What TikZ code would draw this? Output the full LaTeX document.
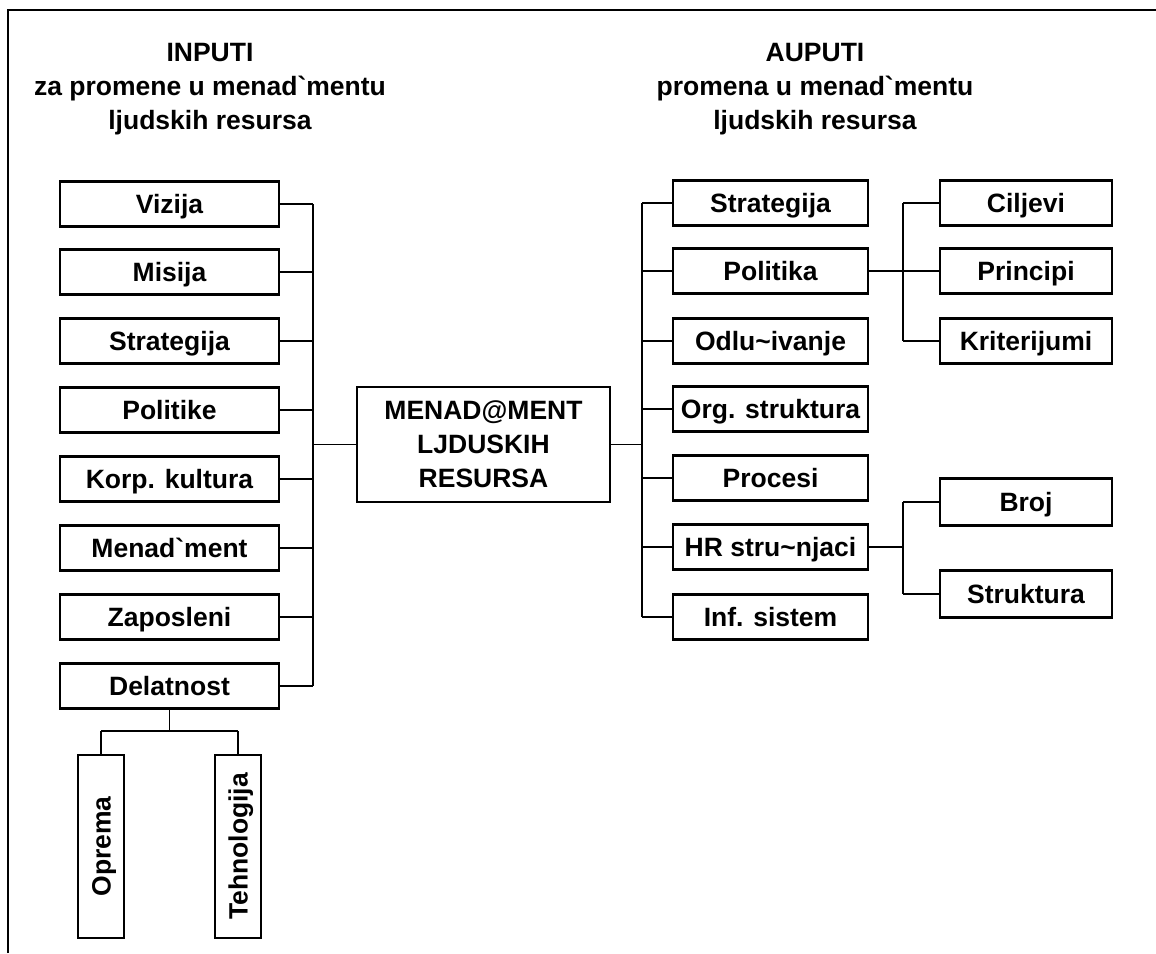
\documentclass[tikz,border=0pt]{standalone}
\usepackage{fontspec}
\setmainfont{Liberation Sans}
\begin{document}
\begin{tikzpicture}[x=1pt,y=-1pt,
  every node/.style={font=\fontsize{26.5}{34}\selectfont\bfseries},
  box/.style={draw,line width=2.8pt,minimum height=45pt,inner sep=0pt,anchor=center},
  one/.style={box,text height=19pt,text depth=0pt},
  lbox/.style={one,minimum width=219pt},
  rbox/.style={one,minimum width=195pt},
  sbox/.style={one,minimum width=172pt},
  vbox/.style={one,rotate=90,minimum width=183pt,minimum height=46pt},
  conn/.style={line width=1.4pt},
  frame/.style={line width=2.8pt}]
\useasboundingbox (0,0) rectangle (1156,953);
\draw[frame] (8,953) -- (8,10) -- (1156,10);

% headers
\node[align=center] (hl) at (210,89) {INPUTI\\za promene u menad\textasciigrave mentu\\ljudskih resursa};
\node[align=center] (hr) at (815,89) {AUPUTI\\promena u menad\textasciigrave mentu\\ljudskih resursa};

% left column
\node[lbox] (l1) at (169.5,204) {Vizija};
\node[lbox] (l2) at (169.5,272) {Misija};
\node[lbox] (l3) at (169.5,341) {Strategija};
\node[lbox] (l4) at (169.5,410) {Politike};
\node[lbox] (l5) at (169.5,479) {Korp. kultura};
\node[lbox] (l6) at (169.5,548) {Menad\textasciigrave ment};
\node[lbox] (l7) at (169.5,617) {Zaposleni};
\node[lbox] (l8) at (169.5,686) {Delatnost};

\node[vbox] (op) at (101,846.5) {Oprema};
\node[vbox] (te) at (238,846.5) {Tehnologija};

% center
\node[box,minimum width=253pt,minimum height=115pt,align=center] (m) at (483.5,444.5) {MENAD@MENT\\LJDUSKIH\\RESURSA};

% right column
\node[rbox] (r1) at (770.5,203) {Strategija};
\node[rbox] (r2) at (770.5,271) {Politika};
\node[rbox] (r3) at (770.5,341) {Odlu\textasciitilde ivanje};
\node[rbox] (r4) at (770.5,409) {Org. struktura};
\node[rbox] (r5) at (770.5,478) {Procesi};
\node[rbox] (r6) at (770.5,547) {HR stru\textasciitilde njaci};
\node[rbox] (r7) at (770.5,617) {Inf. sistem};

% sub boxes
\node[sbox] (s1) at (1026,203) {Ciljevi};
\node[sbox] (s2) at (1026,271) {Principi};
\node[sbox] (s3) at (1026,341) {Kriterijumi};
\node[sbox,minimum height=47pt] (s4) at (1026,502) {Broj};
\node[sbox,minimum height=47pt] (s5) at (1026,594) {Struktura};

% bus coordinates
\coordinate (lb) at (313,0);
\coordinate (rb) at (642,0);
\coordinate (pb) at (903,0);
\coordinate (db) at (0,731);

% left connectors
\foreach \n in {l1,l2,l3,l4,l5,l6,l7,l8}{
  \draw[conn] (\n.east) -- (\n.east -| lb);
}
\draw[conn] (l1.east -| lb) -- (l8.east -| lb);
\draw[conn] (m.west -| lb) -- (m.west);

% right connectors
\foreach \n in {r1,r2,r3,r4,r5,r6,r7}{
  \draw[conn] (\n.west) -- (\n.west -| rb);
}
\draw[conn] (r1.west -| rb) -- (r7.west -| rb);
\draw[conn] (m.east) -- (m.east -| rb);

% politika sub
\draw[conn] (r2.east) -- (r2.east -| pb);
\foreach \n in {s1,s2,s3}{
  \draw[conn] (\n.west) -- (\n.west -| pb);
}
\draw[conn] (s1.west -| pb) -- (s3.west -| pb);

% HR sub
\draw[conn] (r6.east) -- (r6.east -| pb);
\foreach \n in {s4,s5}{
  \draw[conn] (\n.west) -- (\n.west -| pb);
}
\draw[conn] (s4.west -| pb) -- (s5.west -| pb);

% delatnost sub
\draw[conn] (l8.south) -- (l8.south |- db);
\draw[conn] (op.east |- db) -- (te.east |- db);
\draw[conn] (op.east) -- (op.east |- db);
\draw[conn] (te.east) -- (te.east |- db);
\end{tikzpicture}
\end{document}
